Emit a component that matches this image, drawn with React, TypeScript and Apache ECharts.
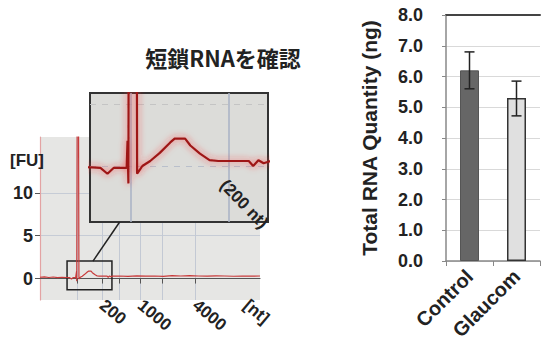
import React, { useEffect, useRef } from "react";
import * as echarts from "echarts";

// ---- Electropherogram (left) ----
const traceTime = [0, 2, 4, 6, 8, 10, 12, 13.5, 14.3, 15.0, 16.2, 16.5, 16.6, 16.7, 16.9, 17.5, 17.7, 18.0, 18.3, 19.2, 20.3, 21.5, 22.0, 23.2, 23.8, 24.9, 26.0, 27.0, 28.5, 30.5, 31.0, 31.6, 32.2, 33, 36, 40, 44, 48, 52, 56, 60, 64, 68, 72, 76, 80, 84, 88, 92, 96, 100];
const traceFU = [0.15, 0.2, 0.12, 0.18, 0.1, 0.15, 0.12, 0.1, -0.05, 0.1, 0.1, 0.1, 0.8, -0.3, 20, 20, -0.05, 0.05, 0.15, 0.28, 0.49, 0.76, 0.86, 0.86, 0.68, 0.47, 0.3, 0.28, 0.28, 0.28, 0.15, 0.3, 0.22, 0.28, 0.3, 0.25, 0.32, 0.28, 0.3, 0.26, 0.33, 0.3, 0.35, 0.3, 0.28, 0.32, 0.3, 0.27, 0.3, 0.28, 0.3];
const tickTimes = [17.0, 28.2, 35.9, 45.5, 55.5, 70.5];
const labelTimes = [28.2, 45.5, 70.5, 93.6];
const labelTexts = ["200", "1000", "4000", "[nt]"];
const fuTicks = [0, 5, 10];
const zoomBoxTime = [12.3, 32.7];
const zoomBoxFU = [-1.3, 2.04];
const insetLines = [17.0, 28.2];
const insetHLines = [0.15, 1.75];

// ---- Bar chart (right) ----
const groups = ["Control", "Glaucom"];
const rnaMean = [6.2, 5.3];
const rnaLow = [5.6, 4.72];
const rnaHigh = [6.8, 5.85];

const BOLD = "'Liberation Sans', Arial, sans-serif";

export default function App() {
  const ref = useRef<HTMLDivElement>(null);
  useEffect(() => {
    if (!ref.current) return;
    const chart = echarts.init(ref.current, undefined, { renderer: "svg" });
    const trace = traceTime.map((t, i) => [t, traceFU[i]]);
    const labelStyle = { fontFamily: BOLD, fontWeight: "bold", color: "#222" };
    const option: any = {
      animation: false,
      grid: [
        { left: 40, top: 137, width: 220, height: 163, show: true, backgroundColor: "#e6e6e4", borderWidth: 0, z: 0 },
        { left: 90, top: 93, width: 178, height: 129, show: true, backgroundColor: "#dcdcd9", borderColor: "#333", borderWidth: 2, z: 3 },
        { left: 446, top: 15, width: 94, height: 246, show: false },
      ],
      xAxis: [
        {
          gridIndex: 0, type: "value", min: 0, max: 100,
          axisLine: { show: true, lineStyle: { color: "#555", width: 1.2 } },
          axisTick: { show: true, customValues: tickTimes, length: 5, lineStyle: { color: "#555" } },
          axisLabel: {
            customValues: labelTimes, rotate: -40, margin: 3, fontSize: 17, ...labelStyle,
            formatter: (v: number) => labelTexts[labelTimes.indexOf(v)] ?? "",
          },
          splitLine: { show: true, lineStyle: { color: "#c3c9d4", width: 1 } },
        },
        {
          gridIndex: 1, type: "value", min: zoomBoxTime[0], max: zoomBoxTime[1], z: 4,
          axisLine: { show: false }, axisTick: { show: false, customValues: insetLines }, axisLabel: { show: false },
          splitLine: { show: true, lineStyle: { color: "#a9b2c4", width: 1.5 } },
        },
        {
          gridIndex: 2, type: "category", data: groups,
          axisLine: { show: true, lineStyle: { color: "#888", width: 1.5 } },
          axisTick: { show: true, length: 5, lineStyle: { color: "#888" } },
          axisLabel: { rotate: 45, fontSize: 20, margin: 12, ...labelStyle },
        },
        {
          gridIndex: 2, type: "category", data: groups, position: "top",
          axisLine: { show: true, lineStyle: { color: "#444", width: 2 } },
          axisTick: { show: false }, axisLabel: { show: false },
        },
      ],
      yAxis: [
        {
          gridIndex: 0, type: "value", min: -2.5, max: 16.5,
          axisLine: { show: true, lineStyle: { color: "#e3a3a3", width: 1.2 } },
          axisTick: { show: true, customValues: fuTicks, length: 5, lineStyle: { color: "#555" } },
          axisLabel: { customValues: fuTicks, fontSize: 18, margin: 7, ...labelStyle },
          splitLine: { show: true, lineStyle: { color: "#c6ccd6", width: 1 } },
        },
        {
          gridIndex: 1, type: "value", min: zoomBoxFU[0], max: zoomBoxFU[1], z: 4,
          axisLine: { show: false }, axisTick: { show: false, customValues: insetHLines }, axisLabel: { show: false },
          splitLine: { show: true, lineStyle: { color: ["#b9bfcb", "#c4c4c4"], width: 1.2, type: [6, 6] } },
        },
        {
          gridIndex: 2, type: "value", min: 0, max: 8, interval: 1,
          axisLine: { show: true, lineStyle: { color: "#888", width: 1.5 } },
          axisTick: { show: true, length: 4, lineStyle: { color: "#888" } },
          axisLabel: { fontSize: 18, margin: 23, ...labelStyle, formatter: (v: number) => v.toFixed(1) },
          splitLine: { show: true, lineStyle: { color: "#d9d9d9" } },
          name: "Total RNA Quantity (ng)", nameLocation: "middle", nameGap: 66,
          nameTextStyle: { fontSize: 21, fontFamily: BOLD, fontWeight: "bold", color: "#222" },
        },
      ],
      series: [
        {
          type: "line", xAxisIndex: 0, yAxisIndex: 0, data: trace, showSymbol: false,
          lineStyle: { color: "#c83a3a", width: 1.2 }, z: 2,
          markArea: {
            silent: true,
            itemStyle: { color: "rgba(0,0,0,0)", borderColor: "#222", borderWidth: 1.5 },
            data: [[{ xAxis: zoomBoxTime[0], yAxis: zoomBoxFU[1] }, { xAxis: zoomBoxTime[1], yAxis: zoomBoxFU[0] }]],
          },
        },
        {
          type: "line", xAxisIndex: 1, yAxisIndex: 1, data: trace, showSymbol: false, z: 6,
          lineStyle: { color: "#9e1616", width: 2.2, shadowColor: "rgba(255,40,40,0.8)", shadowBlur: 7 },
        },
        {
          type: "bar", xAxisIndex: 2, yAxisIndex: 2, barWidth: 19,
          data: rnaMean.map((v, i) => ({
            value: v,
            itemStyle: i === 0
              ? { color: "#666666", borderColor: "#555", borderWidth: 1 }
              : { color: "#e0e0e0", borderColor: "#333", borderWidth: 1.5 },
          })),
        },
        {
          type: "custom", xAxisIndex: 2, yAxisIndex: 2, z: 5,
          data: groups.map((_, i) => [i, rnaLow[i], rnaHigh[i]]),
          renderItem: (params: any, api: any) => {
            const lo = api.coord([api.value(0), api.value(1)]);
            const hi = api.coord([api.value(0), api.value(2)]);
            const w = 5;
            const st = { stroke: "#222", lineWidth: 1.5 };
            return {
              type: "group",
              children: [
                { type: "line", shape: { x1: lo[0], y1: lo[1], x2: hi[0], y2: hi[1] }, style: st },
                { type: "line", shape: { x1: lo[0] - w, y1: lo[1], x2: lo[0] + w, y2: lo[1] }, style: st },
                { type: "line", shape: { x1: hi[0] - w, y1: hi[1], x2: hi[0] + w, y2: hi[1] }, style: st },
              ],
            };
          },
        },
      ],
      graphic: [
        {
          id: "title", type: "text", x: 223, y: 57, z: 10,
          style: { text: "短鎖RNAを確認", font: "bold 22px 'Noto Sans CJK JP'", fill: "#222", align: "center", verticalAlign: "middle" },
        },
        {
          id: "fu", type: "text", x: 27, y: 160, z: 10,
          style: { text: "[FU]", font: `bold 17px ${BOLD}`, fill: "#222", align: "center", verticalAlign: "middle" },
        },
        {
          id: "nt200", type: "text", x: 244, y: 204, rotation: -0.8, z: 20,
          style: { text: "(200 nt)", font: `bold 17px ${BOLD}`, fill: "#222", align: "center", verticalAlign: "middle" },
        },
      ],
    };
    chart.setOption(option);
    const p1 = chart.convertToPixel({ xAxisIndex: 0, yAxisIndex: 0 } as any, [24.1, zoomBoxFU[1]]) as number[];
    const p2 = chart.convertToPixel({ xAxisIndex: 1, yAxisIndex: 1 } as any, [15.7, zoomBoxFU[0]]) as number[];
    chart.setOption({
      graphic: [
        {
          id: "connector", type: "line", z: 10,
          shape: { x1: p1[0], y1: p1[1], x2: p2[0], y2: p2[1] },
          style: { stroke: "#222", lineWidth: 1.5 },
        },
      ],
    });
    return () => chart.dispose();
  }, []);
  return <div ref={ref} style={{ position: "absolute", left: 0, top: 0, width: 542, height: 346, background: "#fff" }} />;
}
